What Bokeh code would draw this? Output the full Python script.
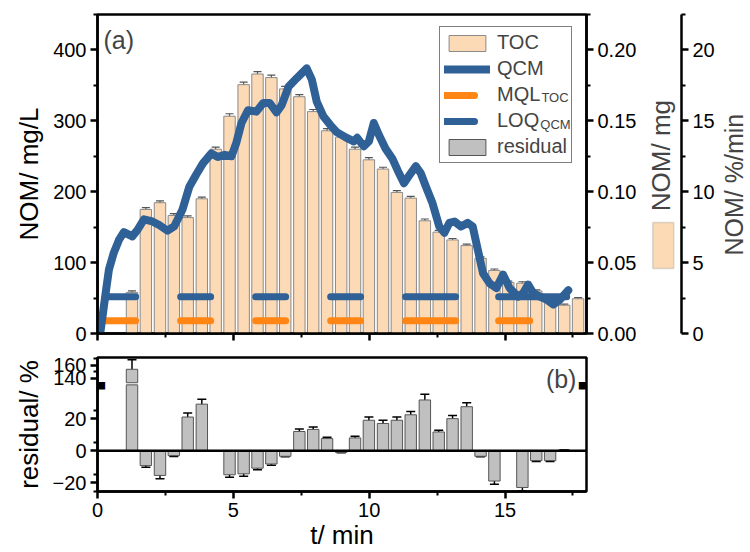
import math
from bokeh.plotting import figure
from bokeh.models import (Range1d, LinearAxis, FixedTicker, Whisker, TeeHead, ColumnDataSource,
                          Legend, LegendItem, Label, Span, NumeralTickFormatter, BoxAnnotation)
from bokeh.layouts import column, row
from bokeh.embed import file_html
from bokeh.resources import INLINE

FONT = "Liberation Sans"

# ---------------- data ----------------
t_min = [1.27, 1.78, 2.30, 2.81, 3.32, 3.84, 4.35, 4.86, 5.38, 5.89, 6.40, 6.91, 7.43, 7.94,
         8.45, 8.97, 9.48, 9.99, 10.51, 11.02, 11.53, 12.05, 12.56, 13.07, 13.59, 14.10,
         14.61, 15.12, 15.64, 16.15, 16.66, 17.18, 17.69]
toc_mg_l = [58, 175, 184.5, 166.5, 163.5, 190, 260, 306.5, 351, 366, 361, 345, 334, 313,
            286, 277, 260, 245, 232, 199, 191, 159, 143, 132, 124, 106, 89, 72, 71, 60, 48, 40, 49]
toc_err = [2, 2.5, 2.5, 2.5, 2.5, 2.5, 3, 3.5, 3.5, 3.5, 3.5, 3.5, 3, 3, 3, 3, 3, 3,
           2.5, 2.5, 2.5, 2.5, 2.5, 2, 2, 2, 2, 2, 2, 1.5, 1.5, 1.5, 1.5]
residual = [154, -9.2, -15.3, -3, 21, 29, None, -14.9, -14.3, -10.8, -8.2, -3.4, 12, 13.3,
            7.6, -1, 8, 19, 17, 19, 22.4, 31.6, 11.7, 20, 27.4, -3.4, -18.8, None, -22.8,
            -6.1, -6.1, 0.5, None]
residual_err = [14.5, 1, 2, 0.5, 2.5, 3, None, 1.5, 1.5, 1, 0.8, 0.3, 1.5, 1.5, 0.8, 0.2, 1,
                2, 2, 2, 2, 3.5, 1, 2, 2.5, 0.3, 2, None, 2, 0.5, 0.5, 0.1, None]
qcm_t = [0.1, 0.3, 0.42, 0.6, 0.79, 0.97, 1.28, 1.47, 1.71, 2.02, 2.27, 2.58, 2.82, 3.13,
         3.38, 3.63, 3.88, 4.19, 4.43, 4.68, 4.93, 5.11, 5.30, 5.54, 5.85, 6.10, 6.34, 6.59,
         6.78, 7.03, 7.33, 7.70, 7.89, 8.07, 8.32, 8.57, 8.81, 9.12, 9.43, 9.56, 9.80, 9.99,
         10.17, 10.36, 10.60, 10.85, 11.10, 11.28, 11.53, 11.72, 11.90, 12.09, 12.33, 12.58,
         12.77, 12.95, 13.14, 13.38, 13.63, 13.81, 14.00, 14.19, 14.43, 14.68, 14.93, 15.17,
         15.48, 15.67, 15.85, 16.04, 16.28, 16.53, 16.78, 17.03, 17.33]
qcm_mg = [0.0, 0.0285, 0.045, 0.057, 0.066, 0.0715, 0.0685, 0.073, 0.0805, 0.079, 0.0765,
          0.0725, 0.0755, 0.0875, 0.1035, 0.112, 0.12, 0.127, 0.1245, 0.126, 0.125, 0.1345,
          0.1485, 0.1575, 0.1565, 0.1625, 0.1625, 0.156, 0.161, 0.174, 0.18, 0.187, 0.179,
          0.1635, 0.153, 0.147, 0.142, 0.1385, 0.1355, 0.138, 0.132, 0.1355, 0.1485, 0.14,
          0.1305, 0.1235, 0.113, 0.106, 0.113, 0.118, 0.113, 0.1035, 0.092, 0.0755, 0.071,
          0.078, 0.079, 0.0755, 0.078, 0.0755, 0.059, 0.0425, 0.0355, 0.032, 0.0415, 0.032,
          0.026, 0.0285, 0.0345, 0.0285, 0.026, 0.024, 0.0205, 0.024, 0.0305]
mql_t = [0.30, 15.91]
mql_mg_l = [18, 18]
loq_t = [0.30, 17.27]
loq_mg = [0.026, 0.026]

left_ticks = [0, 100, 200, 300, 400]
mg_ticks = [0.0, 0.05, 0.10, 0.15, 0.20]
pct_ticks = [0, 5, 10, 15, 20]
x_ticks = [0, 5, 10, 15]
res_ticks_low = [-20, 0, 20]
res_ticks_up = [140, 160]

# ---------------- style ----------------
PEACH = "#FDDAB6"
BAR_LINE = "#8a8a8a"
BLUE = "#2F6096"
ORANGE = "#FF8514"
GREY = "#C0C0C0"
DASH = "30 45 30 45 30 45 30 45 50 43 200"
TOP_H = 348


def style_axis(ax, labels=True):
    ax.axis_line_width = 2.5
    ax.axis_line_color = "black"
    ax.major_tick_line_width = 2.5
    ax.minor_tick_line_width = 2
    ax.major_tick_out = 7
    ax.major_tick_in = 0
    ax.minor_tick_out = 4
    ax.minor_tick_in = 0
    ax.major_label_text_font = FONT
    ax.major_label_text_font_size = "20px" if labels else "1px"
    ax.major_label_text_color = "black" if labels else None
    ax.major_label_standoff = 4
    ax.axis_label_text_font = FONT
    ax.axis_label_text_font_size = "26px"
    ax.axis_label_text_font_style = "normal"
    ax.axis_label_text_color = "black"
    ax.axis_label_standoff = 6


def minor_of(ticks):
    step = ticks[1] - ticks[0]
    return [v + step / 2 for v in ticks]


def clean(p):
    p.xgrid.visible = False
    p.ygrid.visible = False
    p.background_fill_color = "white"
    p.border_fill_color = "white"


# ---------------- top panel ----------------
p1 = figure(width=640, height=TOP_H, x_range=Range1d(0, 18), y_range=Range1d(0, 450),
            output_backend="svg", toolbar_location=None,
            min_border_left=97, min_border_right=54, min_border_top=14, min_border_bottom=15)
p1.extra_y_ranges = {"mg": Range1d(0, 0.225)}
clean(p1)
p1.outline_line_color = "black"
p1.outline_line_width = 2.5

style_axis(p1.xaxis[0], labels=False)
p1.xaxis[0].ticker = FixedTicker(ticks=x_ticks, minor_ticks=minor_of(x_ticks))
p1.xaxis[0].major_label_standoff = 0
style_axis(p1.yaxis[0])
p1.yaxis[0].ticker = FixedTicker(ticks=left_ticks, minor_ticks=minor_of(left_ticks))
p1.yaxis[0].axis_label = "NOM/ mg/L"

ax_mg = LinearAxis(y_range_name="mg")
style_axis(ax_mg)
ax_mg.ticker = FixedTicker(ticks=mg_ticks, minor_ticks=minor_of(mg_ticks))
ax_mg.formatter = NumeralTickFormatter(format="0.00")
p1.add_layout(ax_mg, "right")

src_toc = ColumnDataSource(dict(t=t_min, v=toc_mg_l,
                                up=[v + e for v, e in zip(toc_mg_l, toc_err)],
                                lo=[v - e for v, e in zip(toc_mg_l, toc_err)]))
bars = p1.vbar(x="t", top="v", bottom=0, width=0.42, source=src_toc,
               fill_color=PEACH, line_color=BAR_LINE, line_width=1)
p1.add_layout(Whisker(source=src_toc, base="t", upper="up", lower="lo",
                      line_color="#555555", line_width=1.2,
                      upper_head=TeeHead(size=8, line_color="#555555", line_width=1.2),
                      lower_head=TeeHead(size=8, line_color="#555555", line_width=1.2)))

mql = p1.line(mql_t, mql_mg_l, line_color=ORANGE, line_width=7, line_cap="round",
              line_dash=DASH)
loq = p1.line(loq_t, loq_mg, y_range_name="mg", line_color=BLUE, line_width=7,
              line_cap="round", line_dash=DASH)
qcm = p1.line(qcm_t, qcm_mg, y_range_name="mg", line_color=BLUE, line_width=8,
              line_join="round", line_cap="round")
# legend swatch for the residual bars: zero-height bars hidden under the time axis
dummy_res = p1.vbar(x=t_min, top=0, bottom=0, width=0.42, fill_color=GREY,
                    line_color="#555555", line_width=1, level="underlay")

legend = Legend(items=[LegendItem(label="TOC", renderers=[bars]),
                       LegendItem(label="QCM", renderers=[qcm]),
                       LegendItem(label="MQL", renderers=[mql]),
                       LegendItem(label="LOQ", renderers=[loq]),
                       LegendItem(label="residual", renderers=[dummy_res])],
                location=(342, 170))
legend.label_text_font = FONT
legend.label_text_font_size = "20px"
legend.glyph_width = 46
legend.glyph_height = 20
legend.label_height = 20
legend.label_standoff = 7
legend.spacing = 3
legend.padding = 4
legend.margin = 0
legend.border_line_color = "black"
legend.border_line_width = 1.5
legend.background_fill_alpha = 0
p1.add_layout(legend)

# subscripts of the MQL / LOQ legend entries
for txt, lx, ly in (("TOC", 16.34, 333.5), ("QCM", 16.30, 295)):
    p1.add_layout(Label(x=lx, y=ly, text=txt, text_font=FONT, text_font_size="13px",
                        text_baseline="middle", level="overlay"))

p1.add_layout(Label(x=0.22, y=414, text="(a)", text_font=FONT, text_font_size="25px",
                    text_baseline="middle"))

# ---- strip holding the "NOM/ mg" title and the %/min axis ----
pB = figure(width=77, height=TOP_H, x_range=Range1d(0, 1), y_range=Range1d(0, 22.5),
            output_backend="svg", toolbar_location=None, x_axis_location=None,
            y_axis_location="right", min_border_left=0, min_border_right=34,
            min_border_top=14, min_border_bottom=15)
clean(pB)
pB.outline_line_color = None
style_axis(pB.yaxis[0])
pB.yaxis[0].ticker = FixedTicker(ticks=pct_ticks, minor_ticks=minor_of(pct_ticks))
pB.add_layout(Label(x=0.51, y=12.55, text="NOM/ mg", text_font=FONT, text_font_size="26px",
                    angle=math.pi / 2, text_align="center", text_baseline="middle"))
pB.add_layout(BoxAnnotation(left=0.30, right=0.81, bottom=4.58, top=7.83,
                            fill_color=PEACH, fill_alpha=1, line_color=BAR_LINE,
                            line_width=1.5))

pC = figure(width=33, height=TOP_H, x_range=Range1d(0, 1), y_range=Range1d(0, 22.5),
            output_backend="svg", toolbar_location=None, x_axis_location=None,
            y_axis_location=None, min_border_left=0, min_border_right=0,
            min_border_top=14, min_border_bottom=15)
clean(pC)
pC.outline_line_color = None
pC.add_layout(Label(x=0.5, y=10.5, text="NOM/ %/min", text_font=FONT, text_font_size="25px",
                    angle=math.pi / 2, text_align="center", text_baseline="middle"))

# ---------------- bottom panel ----------------
low_range = Range1d(-25.3, 58.0)
up_range = Range1d(-32.5, 172.0)
break_lo = 41.0
break_hi = 133.5


def up_to_low(v):
    f = (v - up_range.start) / (up_range.end - up_range.start)
    return round(low_range.start + f * (low_range.end - low_range.start), 3)


p2 = figure(width=750, height=552 - TOP_H, x_range=p1.x_range, y_range=low_range,
            output_backend="svg", toolbar_location=None,
            min_border_left=97, min_border_right=164, min_border_top=9, min_border_bottom=10)
p2.extra_y_ranges = {"up": up_range}
clean(p2)
p2.outline_line_color = "black"
p2.outline_line_width = 2.5

style_axis(p2.xaxis[0])
p2.xaxis[0].ticker = FixedTicker(ticks=x_ticks, minor_ticks=minor_of(x_ticks))
p2.xaxis[0].axis_label = "t/ min"
p2.xaxis[0].major_label_standoff = 4
p2.xaxis[0].axis_label_standoff = 0
style_axis(p2.yaxis[0])
up_major = [up_to_low(v) for v in res_ticks_up]
up_minor = [up_to_low(v) for v in minor_of(res_ticks_up)]
p2.yaxis[0].ticker = FixedTicker(ticks=res_ticks_low + up_major,
                                 minor_ticks=minor_of([-30] + res_ticks_low) + up_minor)
p2.yaxis[0].major_label_overrides = {k: str(v) for k, v in zip(up_major, res_ticks_up)}
p2.yaxis[0].axis_label = "residual/ %"

lo_x, lo_top, lo_up, lo_dn, lo_ex = [], [], [], [], []
hi_x, hi_top, hi_up, hi_dn = [], [], [], []
for t, v, e in zip(t_min, residual, residual_err):
    if v is None:
        continue
    if v > break_lo:
        lo_x.append(t); lo_top.append(break_lo)
        hi_x.append(t); hi_top.append(v); hi_up.append(v + e); hi_dn.append(v - e)
    else:
        lo_x.append(t); lo_top.append(v)
        lo_ex.append(t); lo_up.append(v + e); lo_dn.append(v - e)

p2.vbar(x=lo_x, top=lo_top, bottom=0, width=0.42, fill_color=GREY, line_color="#555555",
        line_width=1)
p2.vbar(x=hi_x, top=hi_top, bottom=break_hi, width=0.42, fill_color=GREY,
        line_color="#555555", line_width=1, y_range_name="up")
err_lo = ColumnDataSource(dict(t=lo_ex, up=lo_up, lo=lo_dn))
err_hi = ColumnDataSource(dict(t=hi_x, up=hi_up, lo=hi_dn))
for src, rn in ((err_lo, "default"), (err_hi, "up")):
    p2.add_layout(Whisker(source=src, base="t", upper="up", lower="lo", y_range_name=rn,
                          line_color="black", line_width=1.5,
                          upper_head=TeeHead(size=9, line_color="black", line_width=1.5),
                          lower_head=TeeHead(size=9, line_color="black", line_width=1.5)))

p2.add_layout(Span(location=0, dimension="width", line_color="black", line_width=2.5))

brk = (break_lo + up_to_low(break_hi)) / 2
for bx in (p1.x_range.start, p1.x_range.end):
    p2.add_layout(Label(x=bx, y=brk, text="\u25ac", text_font="DejaVu Sans",
                        text_font_size="20px", text_align="center", text_baseline="middle",
                        text_color="black", level="overlay"))

p2.add_layout(Label(x=17.63, y=44.5, text="(b)", text_font=FONT, text_font_size="25px",
                    text_align="right", text_baseline="middle"))

layout = column(row(p1, pB, pC, spacing=0), p2, spacing=0)
open("out.html", "w").write(file_html(layout, INLINE))
